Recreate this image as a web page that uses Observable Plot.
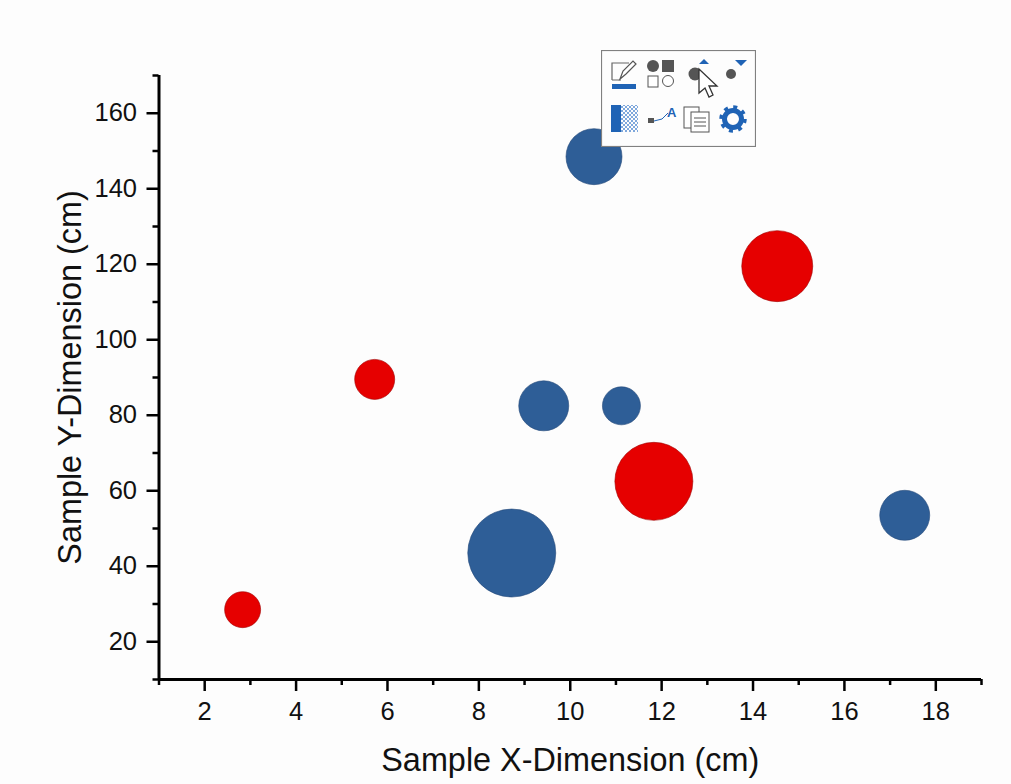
<!DOCTYPE html>
<html><head><meta charset="utf-8">
<script src="https://cdn.jsdelivr.net/npm/d3@7"></script>
<script src="https://cdn.jsdelivr.net/npm/@observablehq/plot@0.6"></script>
<style>
html,body{margin:0;padding:0;background:#fdfdfd;overflow:hidden}
#wrap{position:relative;width:1011px;height:784px}
#toolbar{position:absolute;left:601px;top:50px}
</style></head><body>
<div id="wrap"></div>
<script>
const redX = [2.83, 5.72, 11.83, 14.53];
const redY = [28.5, 89.5, 62.5, 119.5];
const redSize = [18, 20, 39, 35.5];
const blueX = [8.72, 9.42, 10.52, 11.12, 17.32];
const blueY = [43.5, 82.5, 148.5, 82.5, 53.5];
const blueSize = [44, 25, 28, 19, 25];
const xMajor = [2, 4, 6, 8, 10, 12, 14, 16, 18];
const xMinor = [1, 3, 5, 7, 9, 11, 13, 15, 17, 19];
const yMajor = [20, 40, 60, 80, 100, 120, 140, 160];
const yMinor = [10, 30, 50, 70, 90, 110, 130, 150, 170];
const xLabel = "Sample X-Dimension (cm)";
const yLabel = "Sample Y-Dimension (cm)";

const table = (xs, ys, ss) => xs.map((x, i) => ({x, y: ys[i], size: ss[i]}));
const bubbles = (rows, fill, stroke) => Plot.dot(rows, {x: "x", y: "y", r: "size", fill, stroke, strokeWidth: 1, strokeOpacity: 0.6});

const chart = Plot.plot({
  width: 1011, height: 784,
  marginLeft: 158.5, marginRight: 30, marginTop: 75, marginBottom: 105,
  style: {fontFamily: "'Liberation Sans', Arial, sans-serif", background: "transparent", color: "#111"},
  x: {domain: [1, 19]},
  y: {domain: [10, 170]},
  r: {type: "linear", domain: [0, 44], range: [0, 44]},
  marks: [
    Plot.axisX(xMinor, {tickSize: 6, strokeWidth: 2.5, stroke: "#000", tickFormat: () => "", label: null}),
    Plot.axisX(xMajor, {tickSize: 12, tickPadding: 10, strokeWidth: 2.5, stroke: "#000", fontSize: 25.5, tickFormat: d => d, label: xLabel, labelAnchor: "center", labelArrow: "none", labelOffset: 91, fill: "#111"}),
    Plot.axisY(yMinor, {tickSize: 6, strokeWidth: 2.5, stroke: "#000", tickFormat: () => "", label: null}),
    Plot.axisY(yMajor, {tickSize: 12, tickPadding: 10, strokeWidth: 2.5, stroke: "#000", fontSize: 25.5, tickFormat: d => d, label: yLabel, labelAnchor: "center", labelArrow: "none", labelOffset: 101, fill: "#111"}),
    Plot.ruleY([10], {stroke: "#000", strokeWidth: 3}),
    Plot.ruleX([1], {stroke: "#000", strokeWidth: 3}),
    bubbles(table(blueX, blueY, blueSize), "#2e5e97", "#24497a"),
    bubbles(table(redX, redY, redSize), "#e60000", "#a00000")
  ]
});
d3.select(chart).selectAll("g[aria-label$='axis label'] text").style("font-size", "32.4px");
document.getElementById("wrap").append(chart);
</script>
<div id="toolbar"></div>
<script>
document.getElementById("wrap").append(document.getElementById("toolbar"));
document.getElementById("toolbar").innerHTML = `
<svg width="155" height="97" viewBox="0 0 155 97" xmlns="http://www.w3.org/2000/svg">
<defs><pattern id="dither" width="4" height="4" patternUnits="userSpaceOnUse">
<rect width="4" height="4" fill="#fdfdfd"/><rect width="2" height="2" fill="#7fa8dc"/><rect x="2" y="2" width="2" height="2" fill="#7fa8dc"/></pattern></defs>
<rect x="0.5" y="0.5" width="154" height="96" fill="#fdfdfd" stroke="#808080" stroke-width="1.2"/>
<path d="M11 30V13h17M11 30h9" fill="none" stroke="#666" stroke-width="1.2"/>
<path d="M19 29l3-8 10-10 3 3-10 10z" fill="#fff" stroke="#555" stroke-width="1.2"/>
<rect x="11" y="34" width="24" height="5" fill="#1f63b5"/>
<circle cx="52" cy="16" r="6" fill="#555"/><rect x="61" y="10" width="12" height="12" fill="#555"/>
<rect x="47" y="26" width="10" height="11" fill="#fff" stroke="#555"/>
<circle cx="67" cy="31" r="5.5" fill="#fff" stroke="#555"/>
<path d="M98 14l5-5 5 5z" fill="#1f63b5"/><circle cx="94" cy="24" r="6.5" fill="#555"/>
<path d="M134 10h12l-6 6z" fill="#1f63b5"/><circle cx="130" cy="24" r="5" fill="#555"/>
<path d="M98 19v24l6-5 4 9 4-2-4-9h8z" fill="#fff" stroke="#333" stroke-width="1.3"/>
<rect x="10" y="55" width="10" height="27" fill="#1f63b5"/>
<rect x="20" y="55" width="17" height="27" fill="url(#dither)"/>
<rect x="47" y="68" width="6" height="5" fill="#555"/>
<path d="M53 71l8-2 6-6" fill="none" stroke="#1f63b5"/>
<text x="66" y="67" font-family="Liberation Sans" font-weight="bold" font-size="13" fill="#1f63b5">A</text>
<rect x="83" y="57" width="15" height="21" fill="#fff" stroke="#555"/>
<rect x="90" y="62" width="18" height="20" fill="#fff" stroke="#555"/>
<path d="M93 68h12M93 72h12M93 76h12" stroke="#555"/>
<circle cx="132" cy="69" r="8.5" fill="none" stroke="#1f63b5" stroke-width="5"/>
<circle cx="132" cy="69" r="12" fill="none" stroke="#1f63b5" stroke-width="3.5" stroke-dasharray="4 5.4"/>
</svg>`;
</script>
</body></html>
